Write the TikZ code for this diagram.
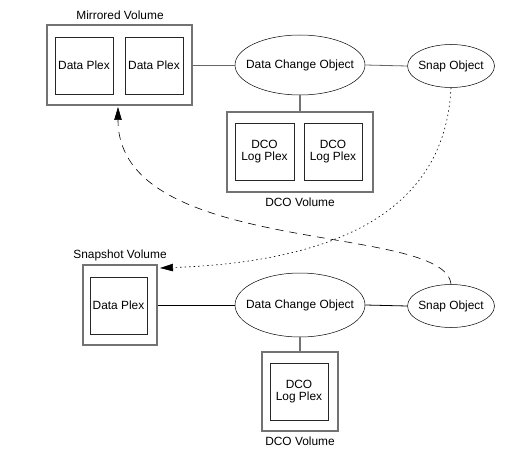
\documentclass[tikz,border=0pt]{standalone}
\usepackage{fontspec}
\setmainfont{Liberation Sans}
\usetikzlibrary{arrows.meta,shapes.geometric}
\begin{document}
\begin{tikzpicture}[x=1pt,y=-1pt,
  every node/.style={font=\fontsize{11.9}{12.8}\selectfont, inner sep=0pt},
  outerbox/.style={draw=black!55, line width=1.3pt, rectangle, minimum width=#1},
  innerbox/.style={draw=black!85, line width=0.8pt, rectangle, minimum width=#1, minimum height=57pt, align=center},
  obj/.style={draw, ellipse, line width=0.5pt, inner xsep=-9pt},
  lbl/.style={},
  link/.style={line width=0.8pt},
  glink/.style={line width=1.5pt, black!55},
  tip/.style={-{Triangle[length=13pt,width=7.5pt]}}
]
\useasboundingbox (0,0) rectangle (527,468);
% top
\node[outerbox=145pt, minimum height=80pt] (mv) at (119.5,65) {};
\node[innerbox=58pt] (dp1) at (84,65.5) {Data Plex};
\node[innerbox=58pt] (dp2) at (154,65.5) {Data Plex};
\node[lbl] (mvl) at (120,15) {Mirrored Volume};
\node[obj, minimum width=130pt, minimum height=60pt] (dco1) at (300,65) {Data Change Object};
\node[obj, minimum width=87pt, minimum height=43pt] (snap1) at (451,66) {Snap Object};
\node[outerbox=146pt, minimum height=80pt] (dv1) at (300,152) {};
\node[innerbox=59pt] (lp1) at (264.5,151.5) {DCO\\Log Plex};
\node[innerbox=58pt] (lp2) at (333,151.5) {DCO\\Log Plex};
\node[lbl] (dv1l) at (300,202) {DCO Volume};
% bottom
\node[outerbox=74pt, minimum height=80pt] (sv) at (120,305) {};
\node[innerbox=57pt] (dp3) at (118.5,305.5) {Data Plex};
\node[lbl] (svl) at (120,255) {Snapshot Volume};
\node[obj, minimum width=130pt, minimum height=64pt] (dco2) at (300,305) {Data Change Object};
\node[obj, minimum width=87pt, minimum height=43pt] (snap2) at (451,306) {Snap Object};
\node[outerbox=76pt, minimum height=79pt] (dv2) at (300,391.5) {};
\node[innerbox=58pt] (lp3) at (299,391.5) {DCO\\Log Plex};
\node[lbl] (dv2l) at (300,441) {DCO Volume};
% connectors
\draw[link, black!60] (mv.east) -- (dco1.west);
\draw[link, black!60] (dco1.east) -- (snap1.west);
\draw[glink] (dco1.south) -- (dv1.north);
\draw[link] (sv.east) -- (dco2.west);
\draw[link] (dco2.east) -- (snap2.west);
\draw[glink] (dco2.south) -- (dv2.north);
\coordinate (t1) at (160,268);
\coordinate (t2) at (118,107);
\draw[tip, line width=0.6pt, dash pattern=on 1.5pt off 3pt] (snap1.south) .. controls (445,215) and (330,262) .. (t1);
\draw[tip, line width=0.6pt, dash pattern=on 8pt off 6pt] (snap2.north) .. controls (445,222) and (118,258) .. (t2);
\end{tikzpicture}
\end{document}
